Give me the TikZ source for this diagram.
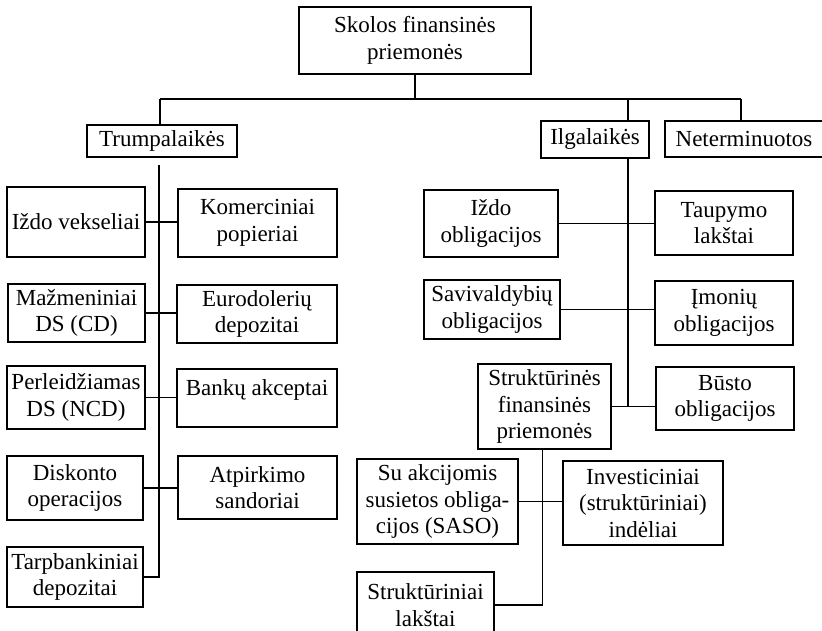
\documentclass[tikz,border=0pt]{standalone}
\usepackage{fontspec}
\setmainfont{Liberation Serif}
\begin{document}
\begin{tikzpicture}
  [x=1pt,y=-1pt,line width=1.1pt,
   box/.style 2 args={draw,rectangle,align=center,inner sep=2pt,
     minimum width=#1,minimum height=#2,font=\fontsize{23}{26.5}\selectfont}]
  \useasboundingbox (0,0) rectangle (822,631);
  \clip (0,0) rectangle (822,631);
  \fill[white] (0,0) rectangle (822,631);

  \node[box={232pt}{67pt}] (top) at (415,40.5) {Skolos finansinės\\priemonės};
  \node[box={150pt}{32pt}] (trump) at (162,141) {Trumpalaikės};
  \node[box={108pt}{37pt}] (ilg) at (595,139.5) {Ilgalaikės};
  \node[box={158pt}{36pt}] (neterm) at (744,139) {Neterminuotos};

  % trumpalaikes
  \node[box={138pt}{70pt}] (izdv) at (76,222) {Iždo vekseliai};
  \node[box={159pt}{68pt}] (komer) at (257.5,223) {Komerciniai\\popieriai};
  \node[box={137pt}{58pt}] (mazm) at (76.5,313) {Mažmeniniai\\DS (CD)};
  \node[box={160pt}{58pt}] (euro) at (257,314) {Eurodolerių\\depozitai};
  \node[box={138pt}{63pt}] (perl) at (76,397.5) {Perleidžiamas\\DS (NCD)};
  \node[box={160pt}{58pt},text depth=20pt] (bank) at (257,398) {Bankų akceptai};
  \node[box={136pt}{64pt}] (disk) at (75,488) {Diskonto\\operacijos};
  \node[box={159pt}{63pt}] (atp) at (257.5,487.5) {Atpirkimo\\sandoriai};
  \node[box={136pt}{60pt}] (tarp) at (75,577) {Tarpbankiniai\\depozitai};

  % ilgalaikes
  \node[box={134pt}{67pt}] (izdo) at (491,223.5) {Iždo\\obligacijos};
  \node[box={138pt}{64pt}] (taup) at (724,223) {Taupymo\\lakštai};
  \node[box={136pt}{59pt}] (saviv) at (492,309.5) {Savivaldybių\\obligacijos};
  \node[box={138pt}{64pt}] (imon) at (724,313) {Įmonių\\obligacijos};
  \node[box={133pt}{85pt}] (strukt) at (544.5,406.5) {Struktūrinės\\finansinės\\priemonės};
  \node[box={138pt}{63pt}] (busto) at (725,398.5) {Būsto\\obligacijos};
  \node[box={161pt}{85pt}] (saso) at (437.5,501.5) {Su akcijomis\\susietos obliga-\\cijos (SASO)};
  \node[box={160pt}{84pt}] (invest) at (643,503) {Investiciniai\\(struktūriniai)\\indėliai};
  \node[box={137pt}{66pt}] (lakst) at (425.5,605) {Struktūriniai\\lakštai};

  \coordinate (busL) at (160,99);
  \coordinate (busR) at (741,99);
  \coordinate (busI) at (628,99);
  \coordinate (ttop) at (159,165);

  \draw (top.south) -- (top.south |- busL);
  \draw (busL) -- (busR);
  \draw (busL) -- (busL |- trump.north);
  \draw (busI) -- (busI |- ilg.north);
  \draw (busR) -- (busR |- neterm.north);

  \draw (ttop) -- (ttop |- tarp.east) -- (tarp.east);
  \draw ([xshift=33pt]ilg.south) -- ([xshift=33pt]ilg.south |- strukt.east);
  \draw ([xshift=-2pt]strukt.south) -- ([xshift=-2pt]strukt.south |- lakst.east) -- (lakst.east);

  \foreach \from/\to in {izdv/komer,mazm/euro,perl/bank,disk/atp,
                         izdo/taup,saviv/imon,strukt/busto,saso/invest}
    \draw (\from.east) -- (\from.east -| \to.west);
\end{tikzpicture}
\end{document}
